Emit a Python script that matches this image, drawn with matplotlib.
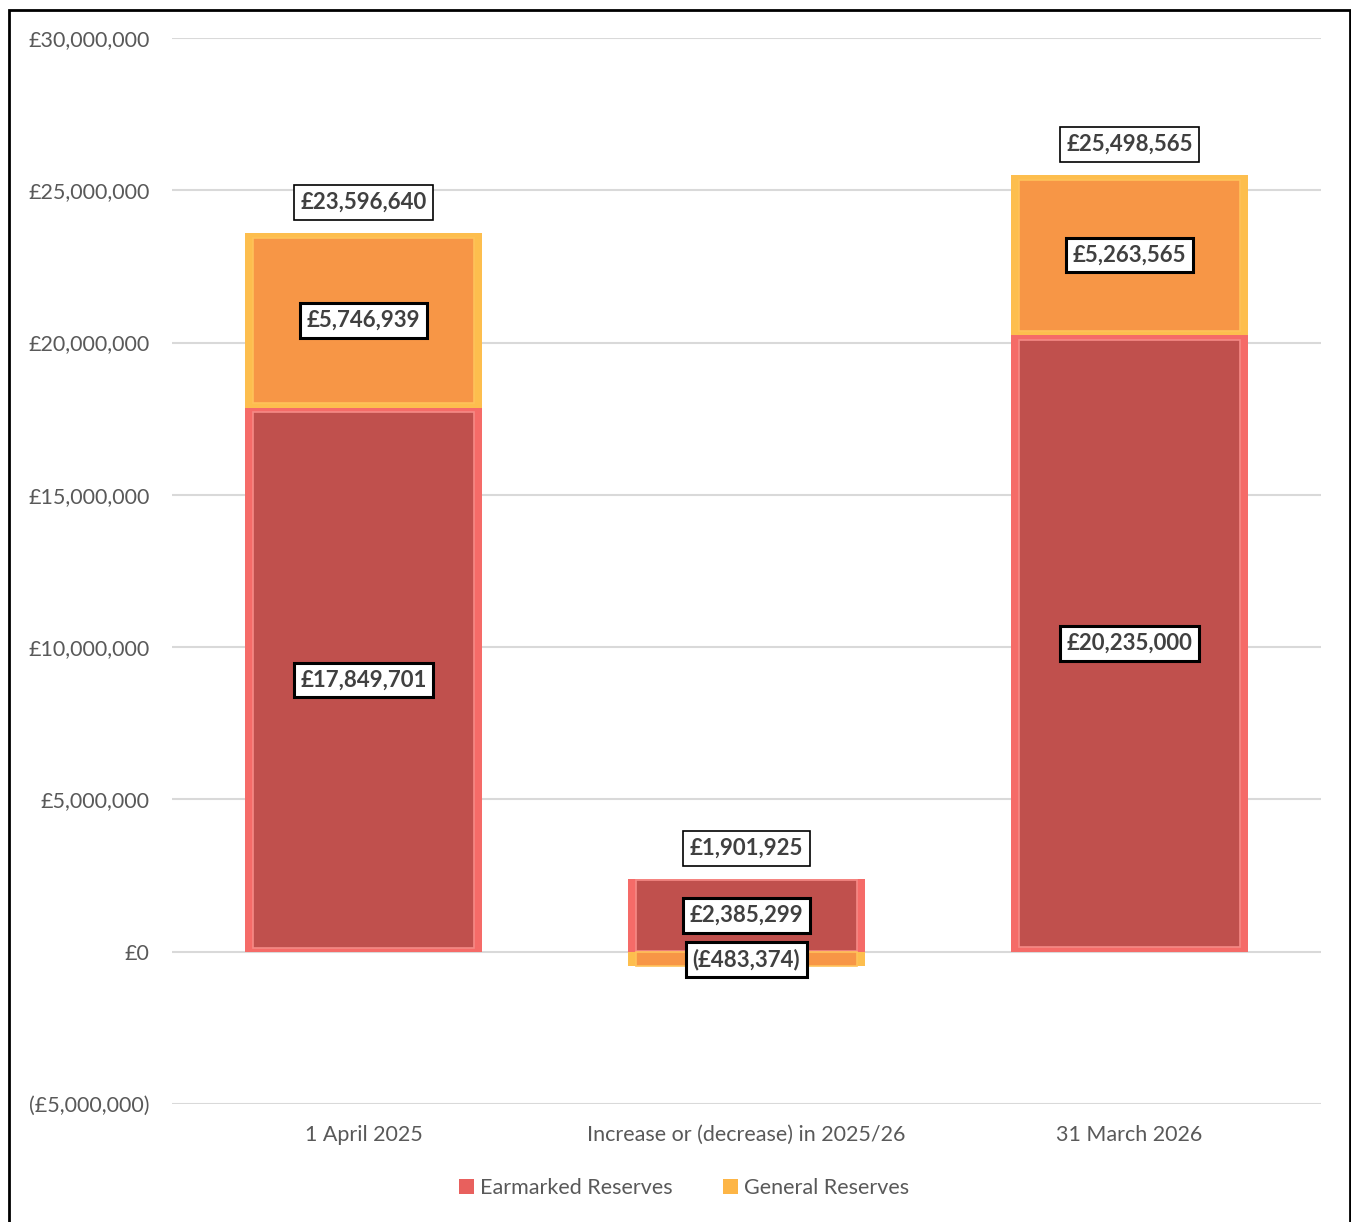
import matplotlib.pyplot as plt
import numpy as np
from matplotlib.patches import Rectangle
from matplotlib.ticker import FuncFormatter

# -------------
# Data
# -------------
categories = ["1 April 2025", "Increase or (decrease) in 2025/26", "31 March 2026"]
earmarked = [17849701, 2385299, 20235000]
general = [5746939, -483374, 5263565]
totals = [23596640, 1901925, 25498565]

plt.rcParams['font.family'] = ['Lato', 'DejaVu Sans']


def money(v, pos=None):
    if v < 0:
        return "(£{:,.0f})".format(-v)
    return "£{:,.0f}".format(v)


fig = plt.figure(figsize=(13.51, 12.22), dpi=100)
ax = fig.add_axes([172 / 1351, 118 / 1222, 1149 / 1351, 1066 / 1222])

x = np.arange(len(categories))
width = 0.62
inner = 0.575

earm = np.array(earmarked)
gen = np.array(general)
gen_bottom = np.where(gen >= 0, earm, 0)

# outer (bevel) bars then inner faces
ax.bar(x, earm, width, color="#F56B68", zorder=2)
ax.bar(x, earm * 0.985, inner, bottom=earm * 0.0075, color="#C0504D",
       edgecolor="#F58A86", linewidth=1.2, zorder=3)
ax.bar(x, gen, width, bottom=gen_bottom, color="#FDBE4E", zorder=2)
ax.bar(x, gen * 0.94, inner, bottom=gen_bottom + gen * 0.03, color="#F79646",
       edgecolor="#FFC25A", linewidth=1.2, zorder=3)

box = dict(boxstyle="square,pad=0.3", facecolor="white", edgecolor="black", linewidth=2.2)
box_thin = dict(boxstyle="square,pad=0.3", facecolor="white", edgecolor="black", linewidth=1.2)
lbl = dict(ha="center", va="center", fontsize=16, fontweight="bold", color="#404040", zorder=6)

for i in range(len(categories)):
    ax.text(x[i], earm[i] / 2, money(earm[i]), bbox=box, **lbl)
    ax.text(x[i], gen_bottom[i] + gen[i] / 2, money(gen[i]), bbox=box, **lbl)
    top = max(earm[i] + max(gen[i], 0), 0)
    ax.annotate(money(totals[i]), (x[i], top), xytext=(0, 22), textcoords="offset points",
                bbox=box_thin, **lbl)

ax.set_ylim(-5000000, 30000000)
ax.set_xlim(-0.5, 2.5)
ax.set_yticks(np.arange(-5000000, 30000001, 5000000))
ax.yaxis.set_major_formatter(FuncFormatter(money))
ax.set_xticks(x)
ax.set_xticklabels(categories)
ax.grid(axis="y", color="#D9D9D9", linewidth=1.5, zorder=0)
ax.set_axisbelow(True)
for s in ax.spines.values():
    s.set_visible(False)
ax.tick_params(axis="both", length=0, labelsize=15.5, labelcolor="#595959")
ax.tick_params(axis="y", pad=16)
ax.tick_params(axis="x", pad=15)

handles = [Rectangle((0, 0), 1, 1, facecolor="#E8605D"),
           Rectangle((0, 0), 1, 1, facecolor="#FDB546")]
leg = fig.legend(handles, ["Earmarked Reserves", "General Reserves"], loc="center",
                 bbox_to_anchor=(684 / 1351, 1 - 1188 / 1222), ncol=2, frameon=False,
                 fontsize=15.5, handlelength=0.7, handleheight=0.7, handletextpad=0.3,
                 columnspacing=2.3)
for t in leg.get_texts():
    t.set_color("#595959")

# outer frame
fig.add_artist(Rectangle((9 / 1351, -0.05), 1341 / 1351, 1.05 - 10 / 1222,
                         transform=fig.transFigure, fill=False, edgecolor="black",
                         linewidth=2, zorder=10))

fig.savefig("out.png", dpi=100)
